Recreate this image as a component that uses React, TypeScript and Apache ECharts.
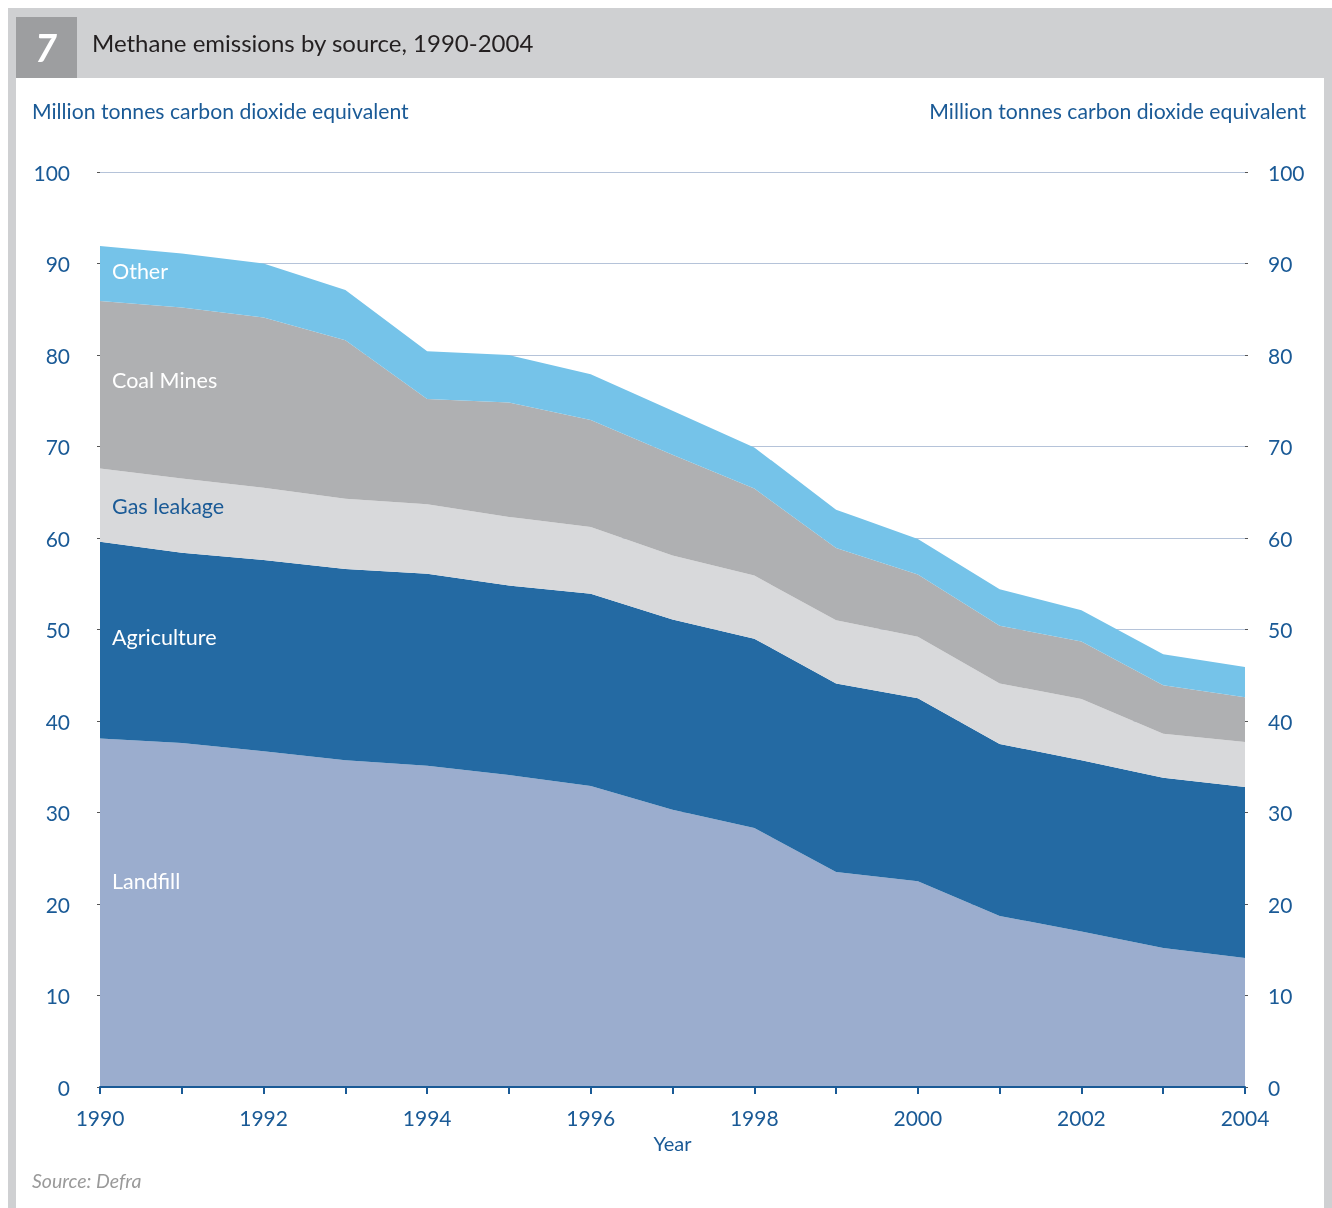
import React, { useEffect, useRef } from "react";
import * as echarts from "echarts";

const years = ["1990","1991","1992","1993","1994","1995","1996","1997","1998","1999","2000","2001","2002","2003","2004"];
const landfill = [38.1, 37.6, 36.7, 35.7, 35.1, 34.1, 32.9, 30.3, 28.3, 23.5, 22.5, 18.7, 17.0, 15.2, 14.1];
const agriculture = [21.5, 20.8, 20.9, 20.9, 21.0, 20.7, 21.0, 20.8, 20.7, 20.6, 20.0, 18.8, 18.7, 18.6, 18.7];
const gasLeakage = [8.0, 8.1, 7.9, 7.7, 7.6, 7.5, 7.3, 7.0, 6.9, 6.9, 6.7, 6.6, 6.7, 4.8, 4.9];
const coalMines = [18.3, 18.7, 18.6, 17.3, 11.5, 12.5, 11.7, 11.0, 9.5, 7.9, 6.8, 6.3, 6.3, 5.3, 4.9];
const other = [6.0, 5.9, 5.9, 5.5, 5.2, 5.2, 5.0, 4.8, 4.5, 4.2, 3.9, 4.0, 3.4, 3.4, 3.3];

const FONT = "Lato, 'Noto Sans', sans-serif";
const BLUE = "#1a5a96";

export default function App() {
  const ref = useRef<HTMLDivElement>(null);
  useEffect(() => {
    if (!ref.current) return;
    const chart = echarts.init(ref.current, null, { renderer: "svg" });
    const mk = (name: string, data: number[], color: string) => ({
      name,
      type: "line",
      stack: "total",
      data,
      symbol: "none",
      lineStyle: { width: 0 },
      areaStyle: { color, opacity: 1 },
      itemStyle: { color },
      z: 2,
    });
    const lbl = (text: string, y: number, fill: string) => ({
      type: "text",
      z: 100,
      style: { text, x: 104, y, fill, fontSize: 21.5, fontFamily: FONT, verticalAlign: "middle" },
    });
    chart.setOption({
      animation: false,
      textStyle: { fontFamily: FONT },
      graphic: [
        { type: "rect", z: -10, shape: { x: 0, y: 0, width: 1324, height: 1200 }, style: { fill: "#cfd0d2" } },
        { type: "rect", z: -9, shape: { x: 8, y: 70, width: 1308, height: 1130 }, style: { fill: "#ffffff" } },
        { type: "rect", z: -8, shape: { x: 8, y: 9, width: 61, height: 61 }, style: { fill: "#9d9ea0" } },
        { type: "text", z: 100, style: { text: "7", x: 38, y: 39, fill: "#ffffff", fontSize: 38, fontWeight: "bold", fontStyle: "italic", fontFamily: FONT, align: "center", verticalAlign: "middle" } },
        { type: "text", z: 100, style: { text: "Methane emissions by source, 1990-2004", x: 84, y: 34, fill: "#231f20", fontSize: 24, fontFamily: FONT, verticalAlign: "middle" } },
        { type: "text", z: 100, style: { text: "Million tonnes carbon dioxide equivalent", x: 24, y: 103, fill: BLUE, fontSize: 21.2, fontFamily: FONT, verticalAlign: "middle" } },
        { type: "text", z: 100, style: { text: "Million tonnes carbon dioxide equivalent", x: 1298, y: 103, fill: BLUE, fontSize: 21.2, fontFamily: FONT, align: "right", verticalAlign: "middle" } },
        { type: "text", z: 100, style: { text: "Source: Defra", x: 24, y: 1172, fill: "#9a9a9a", fontSize: 19.5, fontStyle: "italic", fontFamily: FONT, verticalAlign: "middle" } },
        lbl("Other", 263, "#ffffff"),
        lbl("Coal Mines", 372, "#ffffff"),
        lbl("Gas leakage", 498, BLUE),
        lbl("Agriculture", 629, "#ffffff"),
        lbl("Landfill", 873, "#ffffff"),
      ],
      grid: { left: 92, right: 87, top: 164, bottom: 121, containLabel: false },
      xAxis: {
        type: "category",
        data: years,
        boundaryGap: false,
        name: "Year",
        nameLocation: "middle",
        nameGap: 46,
        nameTextStyle: { color: BLUE, fontSize: 20, fontFamily: FONT },
        axisLine: { lineStyle: { color: BLUE, width: 2 } },
        axisTick: { show: true, interval: 0, length: 7, lineStyle: { color: BLUE, width: 2 } },
        axisLabel: { interval: 1, margin: 20, color: BLUE, fontSize: 21, fontFamily: FONT },
        splitLine: { show: false },
        z: 10,
      },
      yAxis: [
        {
          type: "value",
          min: 0,
          max: 100,
          interval: 10,
          position: "left",
          axisLine: { show: false },
          axisTick: { show: true, length: 3, lineStyle: { color: "#555", width: 1 } },
          axisLabel: { margin: 30, color: BLUE, fontSize: 21, fontFamily: FONT },
          splitLine: { show: true, lineStyle: { color: "#b5c3d9", width: 1 } },
        },
        {
          type: "value",
          min: 0,
          max: 100,
          interval: 10,
          position: "right",
          axisLine: { show: false },
          axisTick: { show: true, length: 3, lineStyle: { color: "#555", width: 1 } },
          axisLabel: { margin: 23, color: BLUE, fontSize: 21, fontFamily: FONT },
          splitLine: { show: false },
        },
      ],
      series: [
        mk("Landfill", landfill, "#9badce"),
        mk("Agriculture", agriculture, "#246aa3"),
        mk("Gas leakage", gasLeakage, "#d8d9db"),
        mk("Coal Mines", coalMines, "#afb0b2"),
        mk("Other", other, "#75c3e9"),
      ],
    });
    return () => chart.dispose();
  }, []);
  return <div ref={ref} style={{ position: "fixed", left: 8, top: 8, width: 1324, height: 1200 }} />;
}
